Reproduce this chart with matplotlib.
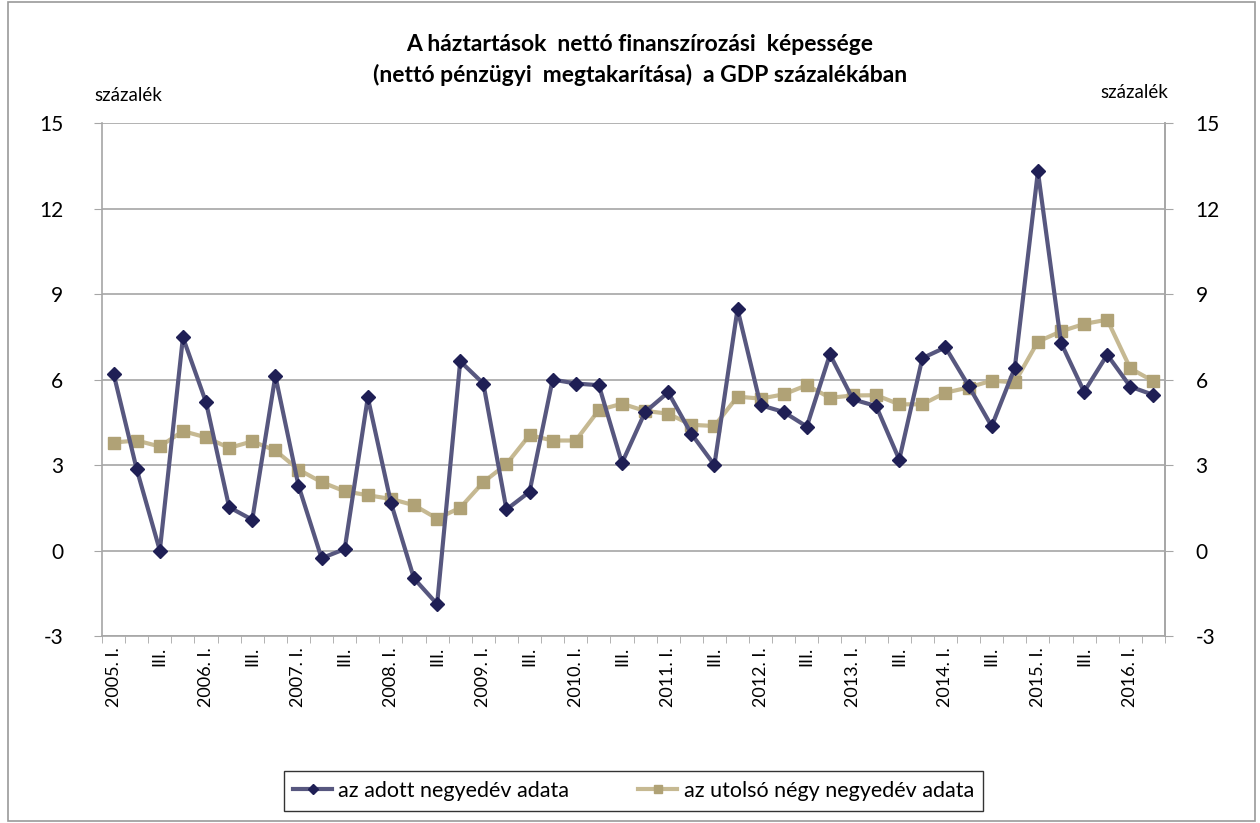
import numpy as np
import matplotlib
matplotlib.use("Agg")
import matplotlib.pyplot as plt
from matplotlib.patches import Rectangle

plt.rcParams['font.family'] = ['Lato', 'DejaVu Sans']
plt.rcParams['axes.unicode_minus'] = False

# quarters 2005 Q1 .. 2016 Q2
years = list(range(2005, 2017))
quarters = []
for y in years:
    for q in ["I.", "II.", "III.", "IV."]:
        quarters.append((y, q))
quarters = quarters[:46]

# tick labels: every other quarter
labels = []
for y, q in quarters:
    if q == "I.":
        labels.append(f"{y}. I.")
    elif q == "III.":
        labels.append("III.")
    else:
        labels.append("")

quarterly = [6.2, 2.85, 0.0, 7.48, 5.2, 1.52, 1.08, 6.13, 2.28, -0.27,
             0.05, 5.37, 1.68, -0.98, -1.88, 6.64, 5.86, 1.44, 2.06, 6.0,
             5.86, 5.8, 3.07, 4.86, 5.55, 4.1, 3.0, 8.47, 5.1, 4.86,
             4.35, 6.88, 5.3, 5.07, 3.19, 6.75, 7.13, 5.78, 4.36, 6.41,
             13.3, 7.29, 5.57, 6.87, 5.75, 5.46]
rolling = [3.79, 3.86, 3.65, 4.19, 3.97, 3.6, 3.83, 3.51, 2.84, 2.4,
           2.08, 1.94, 1.81, 1.59, 1.12, 1.5, 2.4, 3.03, 4.05, 3.86,
           3.86, 4.93, 5.15, 4.9, 4.8, 4.41, 4.37, 5.4, 5.33, 5.48,
           5.8, 5.36, 5.44, 5.45, 5.13, 5.13, 5.54, 5.72, 5.96, 5.9,
           7.33, 7.69, 7.95, 8.1, 6.39, 5.94]

x = np.arange(len(quarters))

fig = plt.figure(figsize=(12.6, 8.23), dpi=100)
ax = fig.add_axes([0.081, 0.2272, 0.8436, 0.6233])

grid_col = "#A6A6A6"
ax.set_ylim(-3, 15)
ax.set_yticks(range(-3, 16, 3))
ax.set_xlim(-0.5, len(x) - 0.5)
ax.grid(axis="y", color=grid_col, lw=1.2)
ax.set_axisbelow(True)

ax.plot(x, quarterly, color="#57577F", lw=3, marker="D", ms=7,
        mfc="#1F1F55", mec="#1F1F55", label="az adott negyedév adata", zorder=3)
ax.plot(x, rolling, color="#C6B992", lw=3, marker="s", ms=8,
        mfc="#B0A276", mec="#B0A276", label="az utolsó négy negyedév adata", zorder=2)

ax.set_xticks(x)
ax.set_xticklabels(labels, rotation=90, fontsize=13)
ax.set_xticks(np.arange(-0.5, len(x), 1), minor=True)
ax.tick_params(axis="x", which="major", length=0, pad=8)
ax.tick_params(axis="x", which="minor", length=5, color=grid_col)
ax.tick_params(axis="y", length=6, color=grid_col, labelsize=15, pad=22)

for s in ["top"]:
    ax.spines[s].set_visible(False)
for s in ["left", "right", "bottom"]:
    ax.spines[s].set_color(grid_col)
    ax.spines[s].set_linewidth(1.2)

ax2 = ax.twinx()
ax2.set_ylim(-3, 15)
ax2.set_yticks(range(-3, 16, 3))
ax2.tick_params(axis="y", length=6, color=grid_col, labelsize=15, pad=16)
for s in ["top", "left", "bottom"]:
    ax2.spines[s].set_visible(False)
ax2.spines["right"].set_color(grid_col)
ax2.spines["right"].set_linewidth(1.2)
for t in ax.get_yticklabels():
    t.set_horizontalalignment("right")

fig.text(0.508, 0.946, "A háztartások  nettó finanszírozási  képessége",
         ha="center", va="center", fontsize=16.5, fontweight="bold")
fig.text(0.508, 0.909, "(nettó pénzügyi  megtakarítása)  a GDP százalékában",
         ha="center", va="center", fontsize=16.5, fontweight="bold")
fig.text(0.075, 0.884, "százalék", ha="left", va="center", fontsize=13.5)
fig.text(0.927, 0.888, "százalék", ha="right", va="center", fontsize=13.5)

leg = ax.legend(loc="center", bbox_to_anchor=(0.5, -0.302), ncol=2,
                fontsize=15.5, frameon=True, fancybox=False, handlelength=1.8,
                handletextpad=0.3, columnspacing=3.2, borderpad=0.45,
                borderaxespad=0, markerscale=0.8)
leg.get_frame().set_edgecolor("black")
leg.get_frame().set_linewidth(1.0)
# widen the frame a bit like the original box
leg._legend_box.set_width = None
fig.canvas.draw()
bb = leg.get_frame().get_bbox()
leg.get_frame().set_bounds(bb.x0 - 25, bb.y0, bb.width + 50, bb.height)

fig.patches.append(Rectangle((0.006, 0.002), 0.99, 0.996, transform=fig.transFigure,
                             fill=False, edgecolor="#9A9A9A", lw=1.2))

fig.savefig("out.png", dpi=100)
